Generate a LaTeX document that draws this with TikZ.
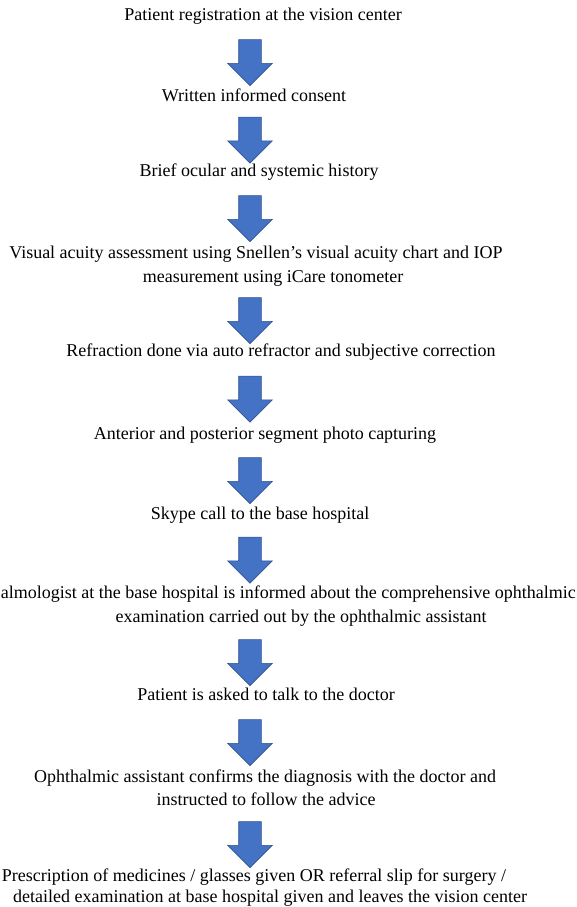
\documentclass[tikz,border=0pt]{standalone}
\usepackage{fontspec}
\setmainfont{Liberation Serif}
\usetikzlibrary{shapes.arrows}
\definecolor{arrowblue}{HTML}{4472C4}
\definecolor{arrowedge}{HTML}{2F528F}

\begin{document}
\begin{tikzpicture}[
    x=1pt, y=-1pt,
    stage/.style={inner sep=0pt, font=\fontsize{18}{22}\selectfont,
      text height=12pt, text depth=4pt},
    downarrow/.style={single arrow, draw=arrowedge, fill=arrowblue,
      line width=0.6pt, inner sep=11pt, minimum height=46pt,
      minimum width=44pt, single arrow head extend=11pt, rotate=-90}
  ]
  \useasboundingbox (0,0) rectangle (577,907);
  \coordinate (axis) at (250,0);

  % steps
  \node[stage] (register) at (263,17) {Patient registration at the vision center};
  \node[stage] (consent) at (254,97) {Written informed consent};
  \node[stage] (history) at (259,172) {Brief ocular and systemic history};
  \node[stage] (acuity) at (256,254) {Visual acuity assessment using Snellen’s visual acuity chart and IOP};
  \node[stage] (acuity2) at (273,278) {measurement using iCare tonometer};
  \node[stage] (refraction) at (281,352) {Refraction done via auto refractor and subjective correction};
  \node[stage] (photo) at (265,435) {Anterior and posterior segment photo capturing};
  \node[stage] (skype) at (260,515) {Skype call to the base hospital};
  \node[stage, anchor=east] (informed) at (576,594) {almologist at the base hospital is informed about the comprehensive ophthalmic};
  \node[stage] (informed2) at (301,618) {examination carried out by the ophthalmic assistant};
  \node[stage] (talk) at (266,696) {Patient is asked to talk to the doctor};
  \node[stage] (confirm) at (265,778) {Ophthalmic assistant confirms the diagnosis with the doctor and};
  \node[stage] (confirm2) at (266,801) {instructed to follow the advice};
  \node[stage] (outcome) at (254,877) {Prescription of medicines / glasses given OR referral slip for surgery /};
  \node[stage] (outcome2) at (270,898) {detailed examination at base hospital given and leaves the vision center};

  % block arrows
  \foreach \from/\to in {register/consent, consent/history, history/acuity,
      acuity2/refraction, refraction/photo, photo/skype, skype/informed,
      informed2/talk, talk/confirm, confirm2/outcome}
    \path (axis |- \from) -- node[downarrow] {} (axis |- \to);
\end{tikzpicture}
\end{document}
